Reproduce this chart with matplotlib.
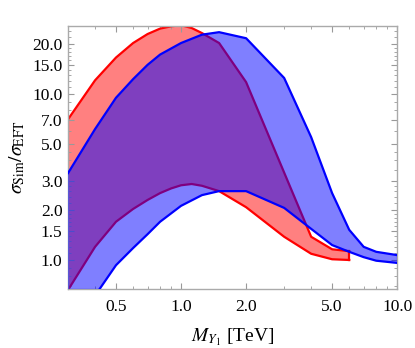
import matplotlib
matplotlib.use("Agg")
import matplotlib.pyplot as plt
from matplotlib.ticker import FixedLocator, FixedFormatter, NullFormatter
import numpy as np

plt.rcParams['font.family'] = ['Liberation Serif', 'DejaVu Serif']
plt.rcParams['mathtext.fontset'] = 'stix'

# red band (upper / lower edge)
red_x = [0.3, 0.4, 0.5, 0.6, 0.7, 0.8, 0.9, 1.0, 1.12, 1.25, 1.5, 2.0, 4.0, 5.0, 6.0]
red_hi = [7.05, 12.1, 16.6, 20.3, 23.0, 24.8, 25.6, 26.0, 25.0, 23.3, 20.3, 11.8, 1.38, 1.16, 1.13]
red_lo_x = [0.3, 0.4, 0.5, 0.6, 0.7, 0.8, 0.9, 1.0, 1.12, 1.25, 1.5, 2.0, 3.0, 4.0, 5.0, 6.0]
red_lo = [0.66, 1.20, 1.70, 2.03, 2.30, 2.53, 2.70, 2.82, 2.87, 2.80, 2.60, 2.08, 1.38, 1.09, 1.01, 1.00]

# blue band (upper / lower edge)
blue_x = [0.3, 0.4, 0.5, 0.6, 0.7, 0.8, 1.0, 1.25, 1.5, 2.0, 3.0, 4.0, 5.0, 6.0, 7.0, 8.0, 10.0]
blue_hi = [3.34, 6.15, 9.5, 12.3, 15.0, 17.3, 20.3, 22.8, 23.6, 21.7, 12.5, 5.5, 2.53, 1.52, 1.20, 1.12, 1.07]
blue_lo = [0.40, 0.61, 0.93, 1.18, 1.43, 1.70, 2.12, 2.46, 2.60, 2.60, 2.06, 1.54, 1.23, 1.12, 1.04, 0.99, 0.96]

fig = plt.figure(figsize=(4.15, 3.48), dpi=100)
ax = fig.add_axes([0.164, 0.170, 0.793, 0.756])
ax.set_xscale('log')
ax.set_yscale('log')

# red band: fill + edges, then blue band semi-transparent on top
ax.fill(np.concatenate([red_x, red_lo_x[::-1]]), np.concatenate([red_hi, red_lo[::-1]]),
        color=(1.0, 0.5, 0.5), lw=0, zorder=1)
ax.plot(red_x, red_hi, color='red', lw=1.6, zorder=2)
ax.plot(red_lo_x, red_lo, color='red', lw=1.6, zorder=2)
ax.plot([red_x[-1], red_x[-1]], [red_lo[-1], red_hi[-1]], color='red', lw=1.6, zorder=2)

ax.fill(np.concatenate([blue_x, blue_x[::-1]]), np.concatenate([blue_hi, blue_lo[::-1]]),
        color='blue', alpha=0.5, lw=0, zorder=3)
ax.plot(blue_x, blue_hi, color='blue', lw=1.6, zorder=4)
ax.plot(blue_x, blue_lo, color='blue', lw=1.6, zorder=4)

ax.set_xlim(0.3, 10.0)
ax.set_ylim(0.67, 25.8)

xt = [0.5, 1.0, 2.0, 5.0, 10.0]
ax.xaxis.set_major_locator(FixedLocator(xt))
ax.xaxis.set_major_formatter(FixedFormatter(["0.5", "1.0", "2.0", "5.0", "10.0"]))
xminor = [0.3, 0.4, 0.6, 0.7, 0.8, 0.9, 3, 4, 6, 7, 8, 9]
ax.xaxis.set_minor_locator(FixedLocator(xminor))
ax.xaxis.set_minor_formatter(NullFormatter())

yt = [1.0, 1.5, 2.0, 3.0, 5.0, 7.0, 10.0, 15.0, 20.0]
ax.yaxis.set_major_locator(FixedLocator(yt))
ax.yaxis.set_major_formatter(FixedFormatter(["%.1f" % v for v in yt]))
yminor = [0.7, 0.8, 0.9, 1.1, 1.2, 1.3, 1.4, 1.6, 1.7, 1.8, 1.9, 2.2, 2.4, 2.6, 2.8,
          3.5, 4, 4.5, 6, 8, 9, 11, 12, 13, 14, 16, 17, 18, 19, 22, 24]
ax.yaxis.set_minor_locator(FixedLocator(yminor))
ax.yaxis.set_minor_formatter(NullFormatter())

ax.tick_params(which='both', direction='in', top=True, right=True, color='#999999',
               labelsize=12.5)
ax.tick_params(axis='x', pad=7.5)
ax.tick_params(axis='y', pad=4)
ax.tick_params(which='major', length=4, width=0.8)
ax.tick_params(which='minor', length=2, width=0.6)
for s in ax.spines.values():
    s.set_color('#aaaaaa')
    s.set_linewidth(1.0)

ax.set_xlabel(r'$M_{Y_1}$ [TeV]', fontsize=14, labelpad=8)
ax.set_ylabel(r'$\sigma_{\rm Sim}/\sigma_{\rm EFT}$', fontsize=14, labelpad=4)

fig.savefig('out.png', dpi=100)
